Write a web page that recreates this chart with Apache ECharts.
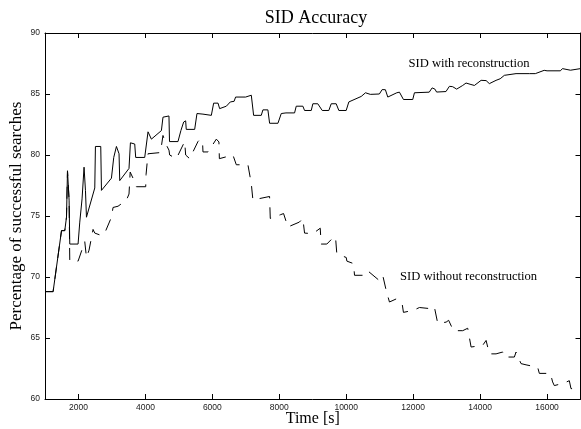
<!DOCTYPE html>
<html>
<head>
<meta charset="utf-8">
<script src="https://cdn.jsdelivr.net/npm/echarts@6/dist/echarts.min.js"></script>
<style>html,body{margin:0;padding:0;background:#fff;overflow:hidden;}#c{width:581px;height:429px;}</style>
</head>
<body>
<div id="c"></div>
<script>
var xTicks = [2000, 4000, 6000, 8000, 10000, 12000, 14000, 16000];
var yTicks = [60, 65, 70, 75, 80, 85, 90];

var withTime = [1000,1242,1493,1591,1642,1672,1720,1740,1988,2039,2107,2167,2209,2239,2487,2507,2666,2687,2985,3054,3134,3212,3233,3510,3552,3681,3710,3979,4078,4179,4478,4525,4704,4720,4973,5060,5143,5203,5220,5472,5541,5720,5970,6039,6170,6218,6418,6537,6650,6695,6994,7030,7164,7233,7462,7511,7660,7711,7960,8059,8200,8457,8507,8705,8755,8955,9003,9150,9283,9480,9552,9700,9780,9999,10078,10448,10576,10720,10990,11074,11170,11242,11511,11590,11710,11988,12038,12480,12567,12650,12700,12980,13083,13180,13300,13480,13580,13700,13830,14030,14180,14277,14477,14600,14725,15074,15471,15650,15915,16000,16400,16460,16700,17000];
var withValue = [68.8,68.8,73.8,73.8,74.9,78.7,76.3,72.7,72.7,74.5,76.4,79.0,77.1,74.9,77.3,80.7,80.7,77.1,78.1,79.8,80.7,80.1,77.9,78.9,81.0,80.9,79.8,79.8,81.9,81.3,82.0,83.1,83.2,81.1,81.1,82.0,82.7,82.8,82.1,82.1,83.4,83.35,83.25,84.25,84.25,83.8,84.0,84.35,84.4,84.75,84.75,84.9,84.9,83.25,83.25,83.7,83.7,82.6,82.6,83.4,83.45,83.45,84.0,84.0,83.65,83.65,84.2,84.2,83.65,83.65,84.2,84.2,83.65,83.65,84.35,84.8,85.1,84.97,85.0,85.36,85.35,84.75,85.1,85.15,84.55,84.55,85.1,85.15,85.5,85.4,85.16,85.2,85.63,85.6,85.4,85.7,85.9,85.8,85.7,86.12,86.1,85.85,86.12,86.25,86.53,86.67,86.67,86.67,86.94,86.9,86.9,87.08,86.95,87.08];

var withoutTime = [1000,1242,1493,1591,1642,1672,1720,1740,1989,2188,2239,2316,2436,2487,2687,2785,2985,3033,3182,3433,3510,3545,3630,3731,4009,4020,4077,4128,4450,4525,4611,4704,4725,4925,5173,5203,5322,5570,5640,5710,5720,5869,6119,6197,6210,6615,6716,7063,7164,7212,7361,7710,7731,8030,8128,8257,8600,8704,8755,9003,9224,9250,9421,9582,9680,9719,10000,10020,10218,10248,10546,10645,10994,11094,11194,11292,11492,11672,11710,12009,12188,12537,12634,12734,12985,13060,13203,13481,13630,13731,14078,14179,14277,14477,14675,14725,15024,15074,15223,15373,15720,15770,16100,16167,16218,16500,16666,16716,17000];
var withoutValue = [68.8,68.8,73.8,73.8,74.9,78.7,76.3,71.3,71.3,72.9,71.6,72.2,73.9,73.6,73.4,73.6,74.9,75.7,75.8,76.3,76.8,78.6,78.1,77.4,77.4,78.4,80.1,80.1,80.2,81.6,80.9,80.4,80.0,79.7,81.1,80.0,79.7,81.1,81.3,80.9,80.25,80.25,81.3,81.07,79.7,80.0,79.2,79.2,77.65,76.3,76.4,76.6,74.8,75.1,75.2,74.1,74.5,74.8,73.6,73.55,74.0,72.7,72.7,73.15,73.3,71.9,71.6,71.3,71.1,70.14,70.14,70.5,69.7,70.1,68.9,67.95,68.2,67.8,67.1,67.27,67.5,67.4,67.55,66.2,66.3,66.45,65.6,65.6,65.8,64.26,64.4,64.8,63.7,63.7,63.85,63.44,63.44,63.85,62.9,62.8,62.6,62.1,62.1,61.4,61.1,61.3,61.5,60.85,60.85];

function zip(a, b) { return a.map(function (t, i) { return [t, b[i]]; }); }

var serif = '"Liberation Serif", "Times New Roman", serif';
var sans = '"Liberation Sans", Arial, sans-serif';
function plain(v) { return String(v); }

function xAxisCfg(pos, showLabel) {
  return {
    type: 'value', position: pos, min: 1000, max: 17000,
    axisLine: { show: true, onZero: false, lineStyle: { color: '#000', width: 1 } },
    axisTick: { show: true, inside: true, length: 5, customValues: xTicks, lineStyle: { color: '#000' } },
    axisLabel: { show: showLabel, customValues: xTicks, formatter: plain, color: '#222', fontFamily: sans, fontSize: 8.5, margin: 4 },
    splitLine: { show: false },
    name: showLabel ? 'Time [s]' : '', nameLocation: 'middle', nameGap: 12, nameMoveOverlap: false,
    nameTextStyle: { fontFamily: serif, fontSize: 16, color: '#000' }
  };
}
function yAxisCfg(pos, showLabel) {
  return {
    type: 'value', position: pos, min: 60, max: 90, interval: 5,
    axisLine: { show: true, onZero: false, lineStyle: { color: '#000', width: 1 } },
    axisTick: { show: true, inside: true, length: 5, lineStyle: { color: '#000' } },
    axisLabel: { show: showLabel, formatter: plain, color: '#222', fontFamily: sans, fontSize: 8.5, margin: 5 },
    splitLine: { show: false },
    name: showLabel ? 'Percentage of successful searches' : '', nameLocation: 'middle', nameGap: 20, nameMoveOverlap: false,
    nameRotate: 90,
    nameTextStyle: { fontFamily: serif, fontSize: 17, color: '#000' }
  };
}

var chart = echarts.init(document.getElementById('c'), null, { renderer: 'canvas' });
chart.setOption({
  backgroundColor: '#fff',
  animation: false,
  title: {
    text: 'SID Accuracy', left: 311, top: 4, textAlign: 'center',
    textStyle: { fontFamily: serif, fontSize: 18, fontWeight: 'normal', color: '#000' }
  },
  grid: { left: 45, right: 0.5, top: 33, bottom: 30, containLabel: false, outerBoundsMode: 'none' },
  xAxis: [xAxisCfg('bottom', true), xAxisCfg('top', false)],
  yAxis: [yAxisCfg('left', true), yAxisCfg('right', false)],
  series: [
    {
      name: 'SID without reconstruction', type: 'line', xAxisIndex: 0, yAxisIndex: 0,
      data: zip(withoutTime, withoutValue), symbol: 'none',
      lineStyle: { color: '#000', width: 1, type: [12, 9] }
    },
    {
      name: 'SID with reconstruction', type: 'line', xAxisIndex: 0, yAxisIndex: 0,
      data: zip(withTime, withValue), symbol: 'none',
      lineStyle: { color: '#000', width: 1 }
    }
  ],
  graphic: [
    { type: 'text', x: 408.5, y: 64, style: { text: 'SID with reconstruction', font: '12.6px ' + serif, fill: '#000', textVerticalAlign: 'middle' } },
    { type: 'text', x: 400, y: 277, style: { text: 'SID without reconstruction', font: '12.6px ' + serif, fill: '#000', textVerticalAlign: 'middle' } }
  ]
});
</script>
</body>
</html>
